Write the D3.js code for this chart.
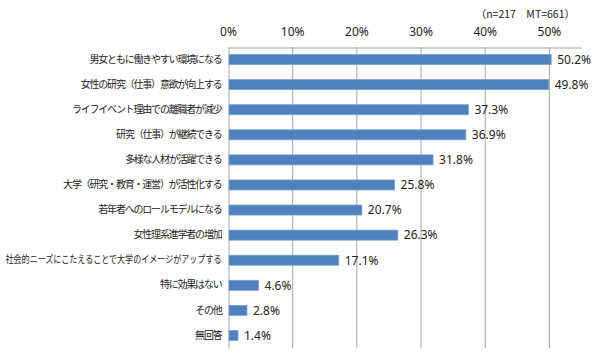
<!DOCTYPE html>
<html>
<head>
<meta charset="utf-8">
<script src="https://cdn.jsdelivr.net/npm/d3@7"></script>
<style>
  body { margin: 0; background: #fff; }
  text { fill: #222; }
</style>
</head>
<body>
<div id="chart"></div>
<script>
var categories = ["男女ともに働きやすい環境になる", "女性の研究（仕事）意欲が向上する", "ライフイベント理由での離職者が減少",
  "研究（仕事）が継続できる", "多様な人材が活躍できる", "大学（研究・教育・運営）が活性化する",
  "若年者へのロールモデルになる", "女性理系進学者の増加", "社会的ニーズにこたえることで大学のイメージがアップする",
  "特に効果はない", "その他", "無回答"]
var values = [50.2, 49.8, 37.3, 36.9, 31.8, 25.8, 20.7, 26.3, 17.1, 4.6, 2.8, 1.4]
var ticks = [0, 10, 20, 30, 40, 50]
var note = "（n=217　MT=661）"

var width = 600, height = 354
var margin = { top: 47, right: 19, bottom: 6, left: 228 }

var svg = d3.select("#chart").append("svg")
  .attr("width", width).attr("height", height)

var x = d3.scaleLinear().domain([0, 55]).range([margin.left, width - margin.right])
var y = d3.scaleBand().domain(categories)
  .range([margin.top, height - margin.bottom]).paddingInner(0.6).paddingOuter(0.3)

// gridlines
svg.append("g").selectAll("line")
  .data(ticks.filter(function (d) { return d > 0 })).enter()
  .append("line")
  .attr("x1", function (d) { return x(d) + 0.5 }).attr("x2", function (d) { return x(d) + 0.5 })
  .attr("y1", margin.top).attr("y2", height - margin.bottom)
  .attr("stroke", "#a6a6a6").attr("stroke-width", 1)

// top axis
var xAxis = svg.append("g")
  .attr("transform", "translate(0," + (margin.top + 0.5) + ")")
  .call(d3.axisTop(x).tickValues(ticks).tickSize(0).tickPadding(12)
    .tickFormat(function (d) { return d + "%" }))
xAxis.select(".domain").attr("stroke", "#a6a6a6")
xAxis.selectAll("text").style("font-family", "'Noto Sans', sans-serif").style("font-size", "12px").attr("fill", "#222")

// left axis
var yAxis = svg.append("g")
  .attr("transform", "translate(" + (margin.left + 0.5) + ",0)")
  .call(d3.axisLeft(y).tickSize(0).tickPadding(7))
yAxis.select(".domain").attr("stroke", "#a6a6a6")
yAxis.selectAll("text")
  .style("font-family", "'Noto Sans CJK JP', sans-serif").style("font-size", "10px")
  .style("letter-spacing", "-1.2px").attr("fill", "#222")
  .each(function () {
    // squeeze the long label so it fits in the left margin
    if (this.getComputedTextLength() > 216) {
      d3.select(this).style("letter-spacing", null)
        .attr("textLength", 216).attr("lengthAdjust", "spacingAndGlyphs")
    }
  })

// bars
svg.append("g").selectAll("rect")
  .data(values).enter()
  .append("rect")
  .attr("x", x(0) + 1)
  .attr("y", function (d, i) { return y(categories[i]) })
  .attr("width", function (d) { return x(d) - x(0) })
  .attr("height", y.bandwidth())
  .attr("fill", "#4f81bd")
  .attr("stroke", "#7ba0d0").attr("stroke-width", 0.8)

// value labels
svg.append("g").selectAll("text")
  .data(values).enter()
  .append("text")
  .attr("x", function (d) { return x(d) + 7 })
  .attr("y", function (d, i) { return y(categories[i]) + y.bandwidth() / 2 })
  .attr("dy", "0.36em")
  .style("font-family", "'Noto Sans', sans-serif").style("font-size", "12px")
  .text(function (d) { return d.toFixed(1) + "%" })

svg.append("text")
  .attr("x", 575).attr("y", 18)
  .attr("text-anchor", "end")
  .style("font-family", "'Noto Sans CJK JP', sans-serif").style("font-size", "10.5px")
  .text(note)
</script>
</body>
</html>
